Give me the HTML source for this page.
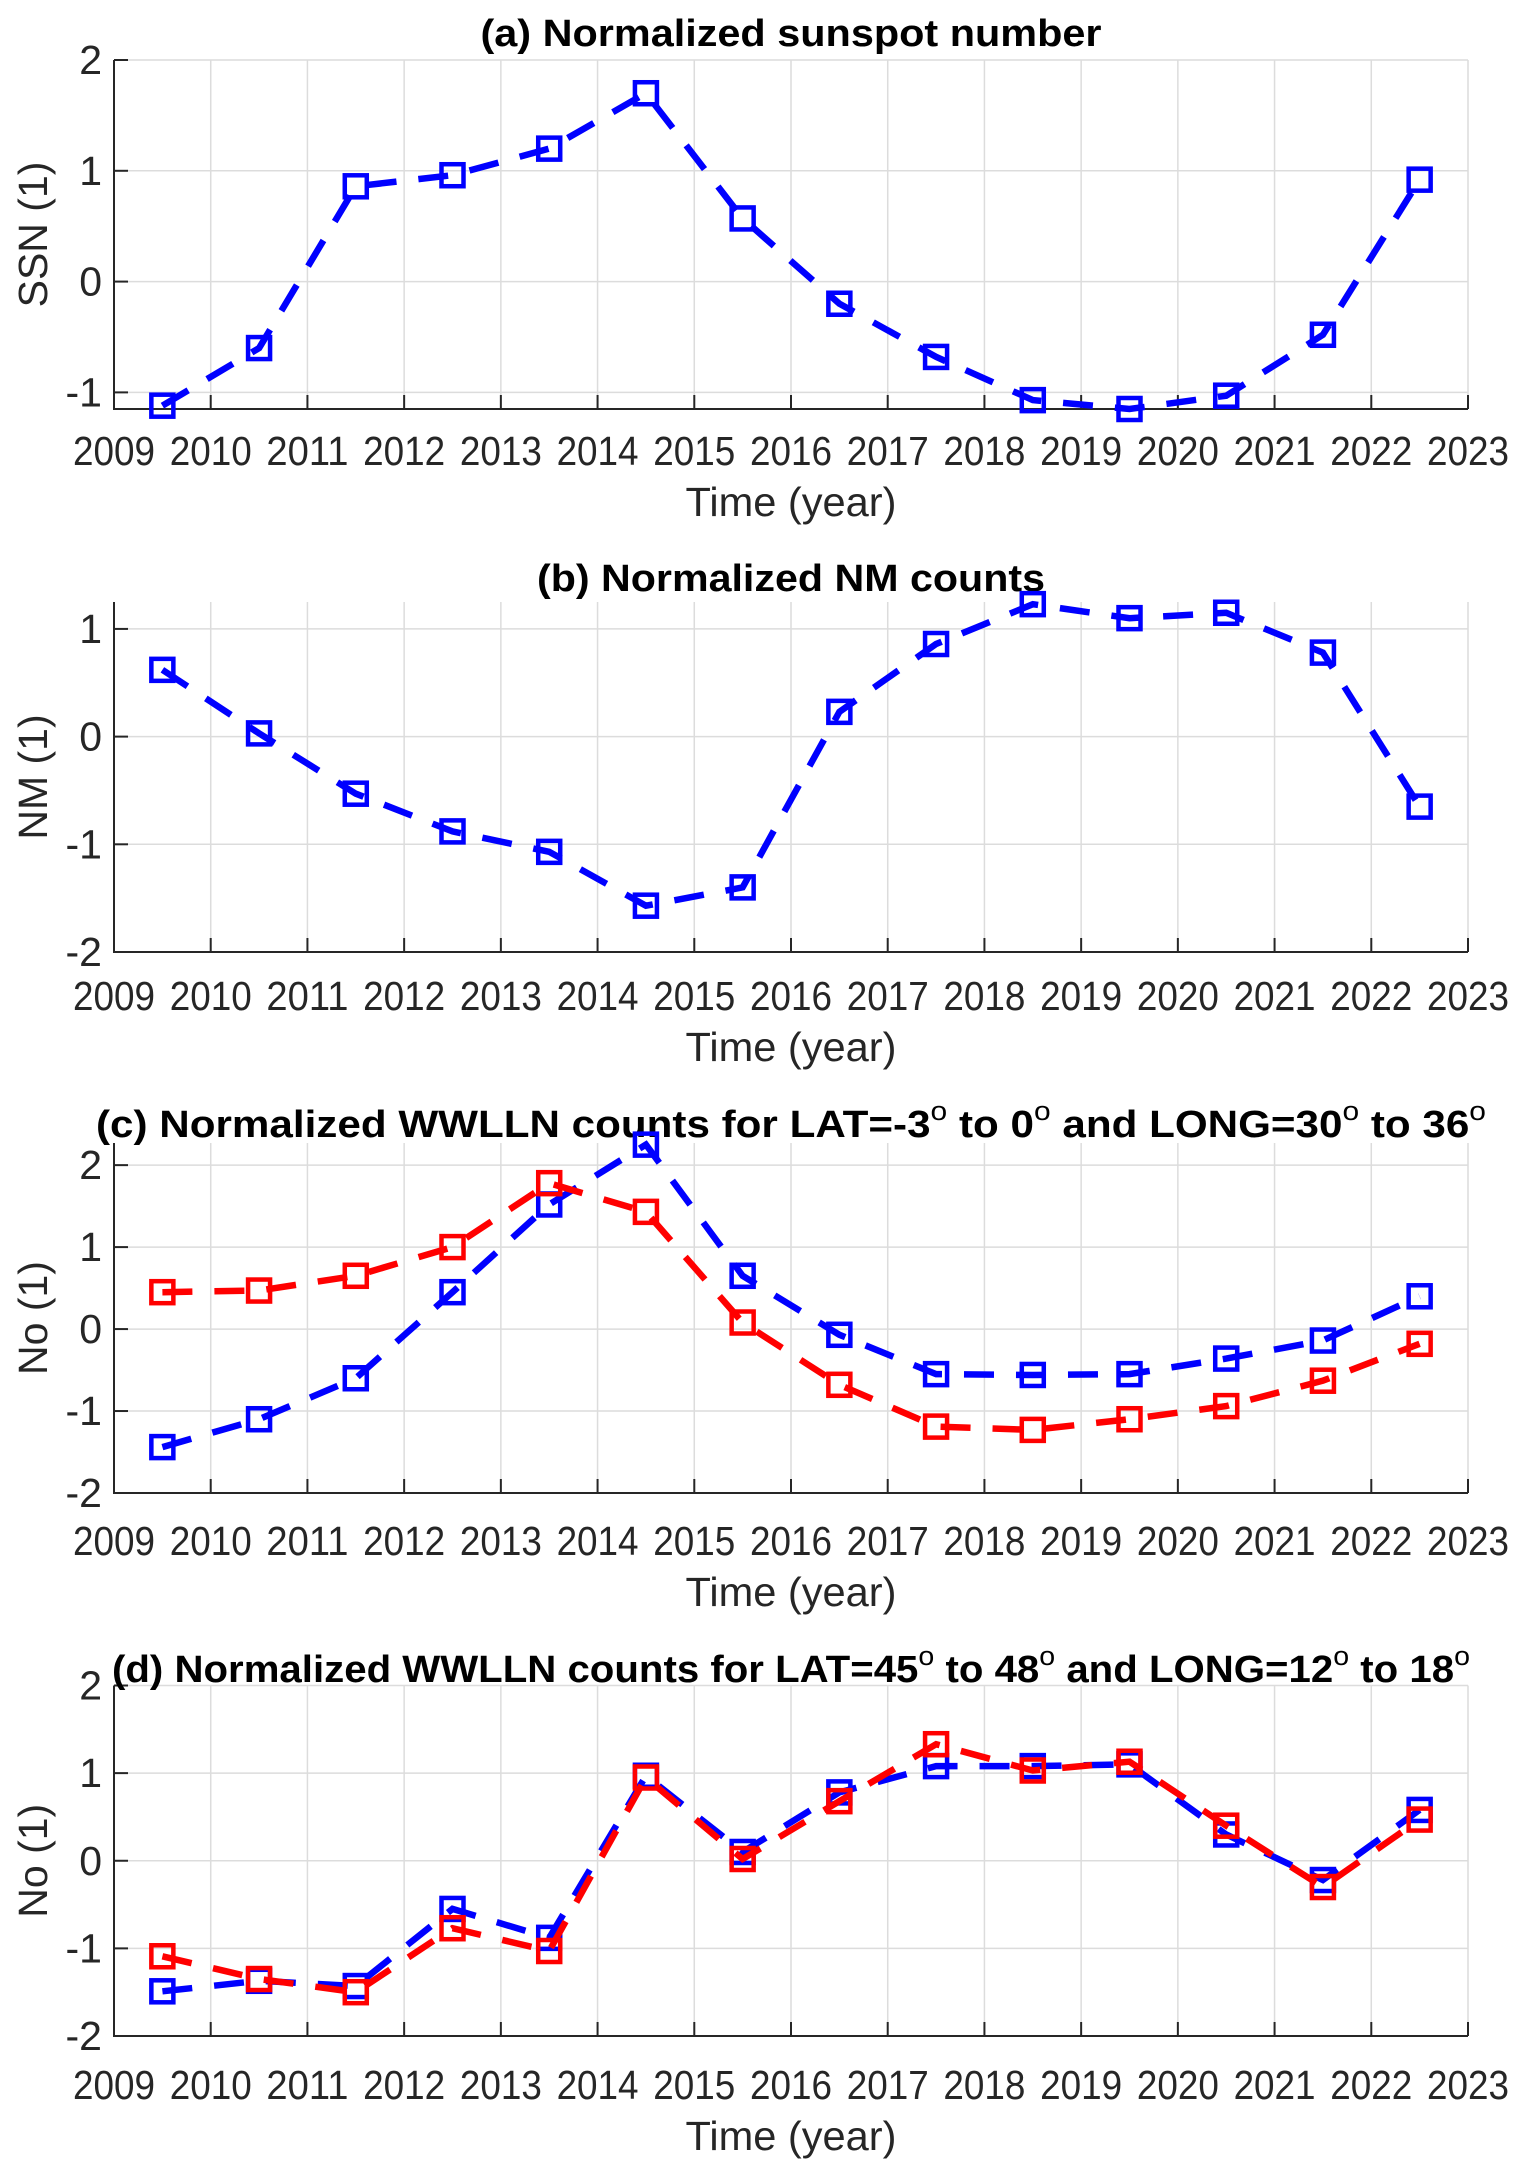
<!DOCTYPE html>
<html><head><meta charset="utf-8">
<style>
html,body{margin:0;padding:0;background:#fff;}
svg{display:block;}
text{font-family:"Liberation Sans",Arial,sans-serif;}
</style></head>
<body>
<svg id="fig" width="1530" height="2161" viewBox="0 0 1530 2161" xmlns="http://www.w3.org/2000/svg"></svg>
<script>
const years = [2009.5,2010.5,2011.5,2012.5,2013.5,2014.5,2015.5,2016.5,2017.5,2018.5,2019.5,2020.5,2021.5,2022.5];
const xTicks = [2009,2010,2011,2012,2013,2014,2015,2016,2017,2018,2019,2020,2021,2022,2023];
const ssnValues = [-1.12,-0.6,0.86,0.96,1.2,1.7,0.57,-0.2,-0.68,-1.07,-1.15,-1.03,-0.48,0.92];
const nmValues = [0.62,0.03,-0.53,-0.88,-1.07,-1.57,-1.4,0.23,0.86,1.23,1.1,1.15,0.78,-0.65];
const cBlue = [-1.44,-1.1,-0.6,0.45,1.52,2.25,0.65,-0.07,-0.55,-0.56,-0.55,-0.36,-0.14,0.4];
const cRed = [0.45,0.47,0.65,1.0,1.78,1.43,0.08,-0.68,-1.19,-1.23,-1.1,-0.94,-0.63,-0.18];
const dBlue = [-1.49,-1.37,-1.43,-0.55,-0.88,0.97,0.1,0.78,1.08,1.08,1.1,0.3,-0.22,0.58];
const dRed = [-1.09,-1.35,-1.5,-0.77,-1.03,0.95,0.02,0.68,1.33,1.03,1.13,0.4,-0.3,0.47];
const yTicksA = [-1,0,1,2];
const yTicksB = [-2,-1,0,1];
const yTicksC = [-2,-1,0,1,2];
const yTicksD = [-2,-1,0,1,2];

const NS='http://www.w3.org/2000/svg';
const svg=document.getElementById('fig');
function mk(tag,attrs,parent){const e=document.createElementNS(NS,tag);for(const k in attrs)e.setAttribute(k,attrs[k]);(parent||svg).appendChild(e);return e;}

const X0=114, X1=1468;
function xs(v){return X0+(v-2009)/(2023-2009)*(X1-X0);}

const panels=[
 {id:'a',top:60,bot:409,ymin:-1.15,ymax:2,ticks:yTicksA,ylab:'SSN (1)',title:'(a) Normalized sunspot number',tw:621,titleY:33,tickY:451,xlabY:502,series:[[ssnValues,'#0000ff','ssn-line']]},
 {id:'b',top:602,bot:952,ymin:-2,ymax:1.25,ticks:yTicksB,ylab:'NM (1)',title:'(b) Normalized NM counts',tw:508,titleY:578,tickY:996,xlabY:1047,series:[[nmValues,'#0000ff','nm-line']]},
 {id:'c',top:1143,bot:1493,ymin:-2,ymax:2.27,ticks:yTicksC,ylab:'No (1)',title:'(c) Normalized WWLLN counts for LAT=-3^ to 0^ and LONG=30^ to 36^',tw:1390,titleY:1124,tickY:1541,xlabY:1592,series:[[cBlue,'#0000ff','blue-series'],[cRed,'#ff0000','red-series']]},
 {id:'d',top:1685.5,bot:2036,ymin:-2,ymax:2,ticks:yTicksD,ylab:'No (1)',title:'(d) Normalized WWLLN counts for LAT=45^ to 48^ and LONG=12^ to 18^',tw:1358,titleY:1669,tickY:2085,xlabY:2136,series:[[dBlue,'#0000ff','blue-series'],[dRed,'#ff0000','red-series']]}
];

function titleText(p,g){
  const t=mk('text',{x:791,y:p.titleY+13,'text-anchor':'middle','font-size':'38','font-weight':'bold',fill:'#000',textLength:p.tw,lengthAdjust:'spacingAndGlyphs'},g);
  
  
  const parts=p.title.split('^');
  let raised=false;
  parts.forEach((s,i)=>{
    const ts=mk('tspan',raised?{dy:'17'}:{},t);ts.textContent=s;raised=false;
    if(i<parts.length-1){const sp=mk('tspan',{dy:'-17','font-size':'27','font-weight':'normal'},t);sp.textContent='o';raised=true;}
  });
}

panels.forEach(p=>{
  const g=mk('g',{});
  
  
  const ys=v=>p.bot-(v-p.ymin)/(p.ymax-p.ymin)*(p.bot-p.top);
  xTicks.slice(1).forEach(t=>{const l=mk('line',{x1:xs(t),x2:xs(t),y1:p.top,y2:p.bot,stroke:'#dcdcdc','stroke-width':1.5},g);
    });
  p.ticks.forEach(t=>{const l=mk('line',{x1:X0,x2:X1,y1:ys(t),y2:ys(t),stroke:'#dcdcdc','stroke-width':1.5},g);
    });
  const ax=mk('path',{d:`M${X0},${p.top} L${X0},${p.bot} L${X1},${p.bot}`,fill:'none',stroke:'#262626','stroke-width':2},g);
  
  xTicks.forEach(t=>{
    const l=mk('line',{x1:xs(t),x2:xs(t),y1:p.bot,y2:p.bot-14,stroke:'#262626','stroke-width':2},g);
    
    const tx=mk('text',{x:xs(t),y:p.tickY+14,'text-anchor':'middle','font-size':'41',fill:'#262626',textLength:82,lengthAdjust:'spacingAndGlyphs'},g);
    tx.textContent=t;
    
  });
  p.ticks.forEach(t=>{
    const l=mk('line',{x1:X0,x2:X0+14,y1:ys(t),y2:ys(t),stroke:'#262626','stroke-width':2},g);
    
    const tx=mk('text',{x:X0-12,y:ys(t)+14,'text-anchor':'end','font-size':'41',fill:'#262626'},g);
    tx.textContent=t;
    
  });
  const xl=mk('text',{x:791,y:p.xlabY+14,'text-anchor':'middle','font-size':'41',fill:'#262626',textLength:211,lengthAdjust:'spacingAndGlyphs'},g);
  xl.textContent='Time (year)';
  
  const cy=(p.top+p.bot)/2;
  const yl=mk('text',{x:0,y:0,transform:`translate(47,${cy}) rotate(-90)`,'text-anchor':'middle','font-size':'41',fill:'#262626'},g);
  yl.textContent=p.ylab;
  
  titleText(p,g);
  p.series.forEach(([vals,col,name])=>{
    const d=vals.map((v,i)=>(i?'L':'M')+xs(years[i]).toFixed(1)+','+ys(v).toFixed(1)).join(' ');
    const pl=mk('path',{d:d,fill:'none',stroke:col,'stroke-width':6.5,'stroke-dasharray':'30 22'},g);
    
    vals.forEach((v,i)=>{
      const m=mk('rect',{x:xs(years[i])-11,y:ys(v)-11,width:22,height:22,fill:'none',stroke:col,'stroke-width':4.5},g);
      
    });
  });
});
</script>
</body></html>
